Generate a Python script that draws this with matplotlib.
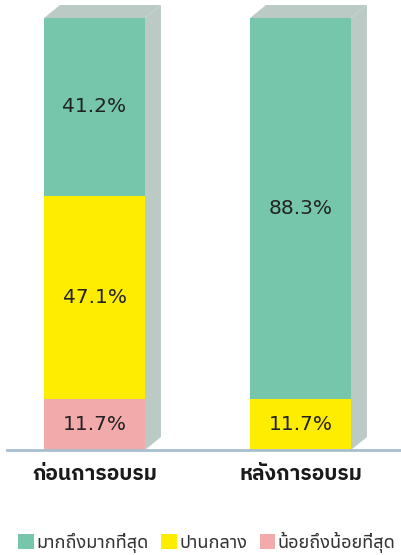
import matplotlib
matplotlib.use('Agg')
import matplotlib.pyplot as plt
from matplotlib.patches import Patch, Polygon

plt.rcParams['font.family'] = ['Noto Sans Thai UI', 'DejaVu Sans']

categories = ['ก่อนการอบรม', 'หลังการอบรม']
series_names = ['มากถึงมากที่สุด', 'ปานกลาง', 'น้อยถึงน้อยที่สุด']
high = [41.2, 88.3]
mid = [47.1, 11.7]
low = [11.7, 0.0]

colors = ['#76c6ab', '#ffed00', '#f2aaab']
side_color = '#bccac6'

fig = plt.figure(figsize=(4.01, 5.55), dpi=100)
ax = fig.add_axes([7 / 401, 105 / 555, 394 / 401, 432 / 555])

x = [0, 1]
width = 0.49
# stack from the bottom: low, mid, high
stacks = [low, mid, high]
stack_colors = [colors[2], colors[1], colors[0]]
bottom = [0.0, 0.0]
for vals, col in zip(stacks, stack_colors):
    ax.bar(x, vals, width, bottom=bottom, color=col, linewidth=0, zorder=3)
    for xi, v, b in zip(x, vals, bottom):
        if v > 0:
            ax.text(xi, b + v / 2, '%.1f%%' % v, ha='center', va='center',
                    fontsize=14.5, color='#222222', zorder=4)
    bottom = [b + v for b, v in zip(bottom, vals)]

# fake 3d depth: side and top faces
dx = 16 / 206
dy = 13 / 432 * 100
for xi, tot in zip(x, bottom):
    xl = xi - width / 2
    xr = xi + width / 2
    side = Polygon([(xr, 0), (xr + dx, dy), (xr + dx, tot + dy), (xr, tot)],
                   closed=True, facecolor=side_color, edgecolor='none',
                   clip_on=False, zorder=2)
    top = Polygon([(xl, tot), (xl + dx, tot + dy), (xr + dx, tot + dy), (xr, tot)],
                  closed=True, facecolor=side_color, edgecolor='none',
                  clip_on=False, zorder=2)
    ax.add_patch(side)
    ax.add_patch(top)

ax.set_xlim(-87.5 / 206, 306.5 / 206)
ax.set_ylim(0, 100)
for s in ['top', 'right', 'left']:
    ax.spines[s].set_visible(False)
ax.spines['bottom'].set_color('#a7bfd0')
ax.spines['bottom'].set_linewidth(2)
ax.spines['bottom'].set_zorder(5)
ax.set_yticks([])
ax.set_xticks(x)
ax.set_xticklabels(categories, fontsize=15, fontweight='bold', color='#1a1a1a',
                   family=['IBM Plex Sans Thai', 'DejaVu Sans'])
ax.tick_params(axis='x', length=0, pad=11)

handles = [Patch(facecolor=c, edgecolor='none') for c in colors]
fig.legend(handles, series_names, loc='center', bbox_to_anchor=(207 / 401, 13 / 555),
           ncol=3, frameon=False, fontsize=13, handlelength=0.85, handleheight=0.85,
           handletextpad=0.15, columnspacing=0.7, labelcolor='#333333')

fig.savefig('out.png')
